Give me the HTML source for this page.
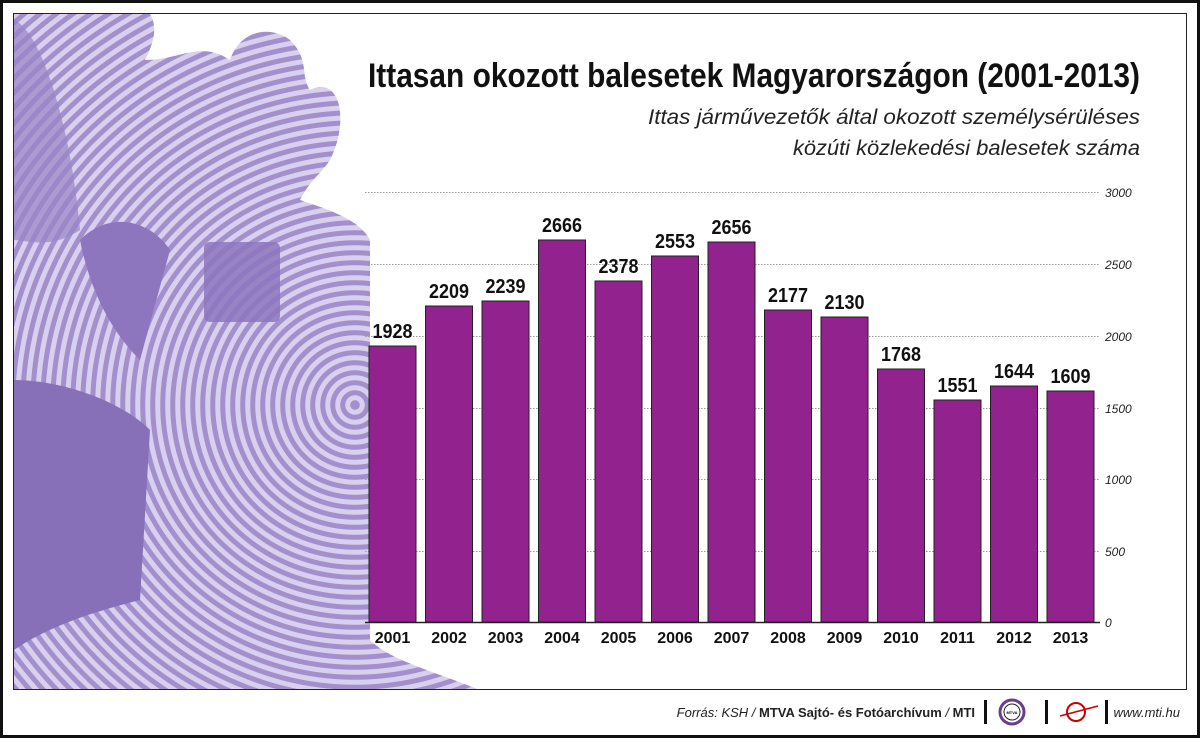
<!DOCTYPE html>
<html><head><meta charset="utf-8"><style>
html,body{margin:0;padding:0;background:#fff;overflow:hidden;width:1200px;height:738px;}
.wrap{position:relative;width:1200px;height:738px;overflow:hidden;background:#fff;font-family:"Liberation Sans",sans-serif;}
.pat{position:absolute;left:0;top:0;width:520px;height:700px;
background:repeating-radial-gradient(circle at 355px 405px,#a28fcc 0,#a28fcc 4.5px,#d8d0ee 5px,#d8d0ee 9.5px,#a28fcc 10px);
clip-path:path("M14 14 H150 C160 30 150 50 145 60 C180 60 200 40 230 60 C240 30 270 25 290 40 C310 60 300 75 310 90 C340 75 350 120 330 160 C320 175 310 180 300 200 C330 210 360 220 370 240 L370 640 C390 660 430 670 480 690 L14 690 Z");}
svg{display:block;position:absolute;left:0;top:0;}
</style></head><body><div class="wrap">
<div class="pat"></div>
<svg width="1200" height="738" viewBox="0 0 1200 738" xmlns="http://www.w3.org/2000/svg">
<defs>
<clipPath id="cp">
<path d="M14 14 H150 C160 30 150 50 145 60 C180 60 200 40 230 60 C240 30 270 25 290 40 C310 60 300 75 310 90 C340 75 350 120 330 160 C320 175 310 180 300 200 C330 210 360 220 370 240 L370 640 C390 660 430 670 480 690 L14 690 Z"/>
</clipPath>
</defs>
<rect x="1.5" y="1.5" width="1197" height="735" fill="none" stroke="#111" stroke-width="3"/>
<g clip-path="url(#cp)">
<path d="M14 380 C60 380 120 400 150 430 L140 600 C100 610 50 625 14 650 Z" fill="#8870b8"/>
<path d="M80 240 C110 210 150 220 170 250 L140 360 C110 330 90 290 80 240 Z" fill="#8d76bd"/>
<rect x="204" y="242" width="76" height="80" rx="6" fill="#8d76bd" opacity="0.85"/>
<path d="M14 20 C40 30 70 120 80 230 C50 250 25 240 14 240 Z" fill="#9a84c8" opacity="0.7"/>
</g>
<rect x="13.5" y="13.5" width="1173" height="676" fill="none" stroke="#222" stroke-width="1"/>
<g stroke="#999" stroke-width="1" stroke-dasharray="1.5,1.5">
<line x1="365" y1="192.5" x2="1100" y2="192.5"/><line x1="365" y1="264.5" x2="1100" y2="264.5"/><line x1="365" y1="336.5" x2="1100" y2="336.5"/><line x1="365" y1="408.5" x2="1100" y2="408.5"/><line x1="365" y1="479.5" x2="1100" y2="479.5"/><line x1="365" y1="551.5" x2="1100" y2="551.5"/>
</g>
<g font-family="Liberation Sans,sans-serif" font-style="italic" font-size="12" fill="#222">
<text x="1105" y="197">3000</text><text x="1105" y="269">2500</text><text x="1105" y="341">2000</text><text x="1105" y="413">1500</text><text x="1105" y="484">1000</text><text x="1105" y="556">500</text><text x="1105" y="627">0</text>
</g>
<line x1="365" y1="622.5" x2="1100" y2="622.5" stroke="#222" stroke-width="1.5"/>
<g fill="#92238e" stroke="#222" stroke-width="1">
<rect x="369" y="346" width="47" height="276"/><rect x="425.5" y="306" width="47" height="316"/><rect x="482" y="301" width="47" height="321"/><rect x="538.5" y="240" width="47" height="382"/><rect x="595" y="281" width="47" height="341"/><rect x="651.5" y="256" width="47" height="366"/><rect x="708" y="242" width="47" height="380"/><rect x="764.5" y="310" width="47" height="312"/><rect x="821" y="317" width="47" height="305"/><rect x="877.5" y="369" width="47" height="253"/><rect x="934" y="400" width="47" height="222"/><rect x="990.5" y="386" width="47" height="236"/><rect x="1047" y="391" width="47" height="231"/>
</g>
<g font-family="Liberation Sans,sans-serif" font-weight="bold" font-size="20" fill="#111" text-anchor="middle">
<text x="392.5" y="338" textLength="40" lengthAdjust="spacingAndGlyphs">1928</text><text x="449" y="298" textLength="40" lengthAdjust="spacingAndGlyphs">2209</text><text x="505.5" y="293" textLength="40" lengthAdjust="spacingAndGlyphs">2239</text><text x="562" y="232" textLength="40" lengthAdjust="spacingAndGlyphs">2666</text><text x="618.5" y="273" textLength="40" lengthAdjust="spacingAndGlyphs">2378</text><text x="675" y="248" textLength="40" lengthAdjust="spacingAndGlyphs">2553</text><text x="731.5" y="234" textLength="40" lengthAdjust="spacingAndGlyphs">2656</text><text x="788" y="302" textLength="40" lengthAdjust="spacingAndGlyphs">2177</text><text x="844.5" y="309" textLength="40" lengthAdjust="spacingAndGlyphs">2130</text><text x="901" y="361" textLength="40" lengthAdjust="spacingAndGlyphs">1768</text><text x="957.5" y="392" textLength="40" lengthAdjust="spacingAndGlyphs">1551</text><text x="1014" y="378" textLength="40" lengthAdjust="spacingAndGlyphs">1644</text><text x="1070.5" y="383" textLength="40" lengthAdjust="spacingAndGlyphs">1609</text>
</g>
<g font-family="Liberation Sans,sans-serif" font-weight="bold" font-size="16" fill="#111" text-anchor="middle">
<text x="392.5" y="643">2001</text><text x="449" y="643">2002</text><text x="505.5" y="643">2003</text><text x="562" y="643">2004</text><text x="618.5" y="643">2005</text><text x="675" y="643">2006</text><text x="731.5" y="643">2007</text><text x="788" y="643">2008</text><text x="844.5" y="643">2009</text><text x="901" y="643">2010</text><text x="957.5" y="643">2011</text><text x="1014" y="643">2012</text><text x="1070.5" y="643">2013</text>
</g>
<text x="1140" y="87" text-anchor="end" font-family="Liberation Sans,sans-serif" font-weight="bold" font-size="34" fill="#111" textLength="772" lengthAdjust="spacingAndGlyphs">Ittasan okozott balesetek Magyarországon (2001-2013)</text>
<g font-family="Liberation Sans,sans-serif" font-style="italic" font-size="21" fill="#222" text-anchor="end">
<text x="1140" y="124" textLength="492" lengthAdjust="spacingAndGlyphs">Ittas járművezetők által okozott személysérüléses</text>
<text x="1140" y="155" textLength="347" lengthAdjust="spacingAndGlyphs">közúti közlekedési balesetek száma</text>
</g>
<text x="975" y="717" text-anchor="end" font-family="Liberation Sans,sans-serif" font-size="13" fill="#222"><tspan font-style="italic">Forrás: KSH / </tspan><tspan font-weight="bold">MTVA Sajtó- és Fotóarchívum</tspan><tspan font-style="italic"> / </tspan><tspan font-weight="bold">MTI</tspan></text>
<rect x="984" y="700" width="3" height="24" fill="#111"/>
<circle cx="1012" cy="712" r="12" fill="none" stroke="#6a3d8e" stroke-width="3"/>
<circle cx="1012" cy="712" r="8" fill="none" stroke="#222" stroke-width="1"/>
<text x="1012" y="714" text-anchor="middle" font-size="4" font-family="Liberation Sans,sans-serif" font-weight="bold">MTVA</text>
<rect x="1045" y="700" width="3" height="24" fill="#111"/>
<circle cx="1076" cy="712" r="9" fill="none" stroke="#c00" stroke-width="2"/>
<line x1="1060" y1="716" x2="1098" y2="706" stroke="#c00" stroke-width="1.5"/>
<rect x="1105" y="700" width="3" height="24" fill="#111"/>
<text x="1180" y="717" text-anchor="end" font-family="Liberation Sans,sans-serif" font-style="italic" font-size="13" fill="#222">www.mti.hu</text>
</svg>
</div></body></html>
